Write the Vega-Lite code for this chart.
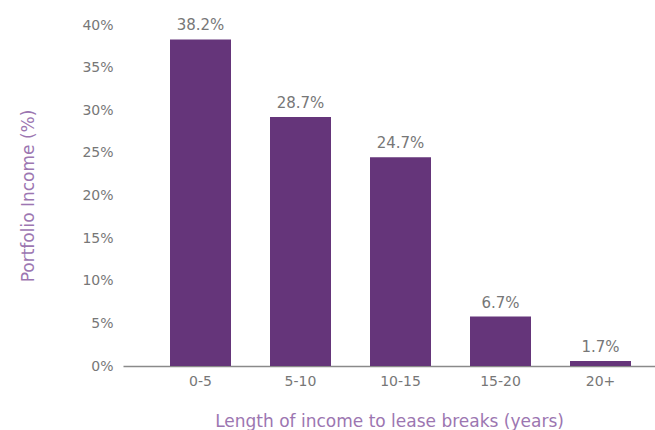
{
  "$schema": "https://vega.github.io/schema/vega-lite/v6.json",
  "width": 532,
  "height": 341,
  "autosize": "none",
  "padding": {"left": 123, "top": 25, "right": 0, "bottom": 64},
  "background": "white",
  "config": {"view": {"stroke": null}, "font": "DejaVu Sans"},
  "data": {
    "values": [
      {"band": "0-5", "value": 38.3, "label": "38.2%"},
      {"band": "5-10", "value": 29.2, "label": "28.7%"},
      {"band": "10-15", "value": 24.5, "label": "24.7%"},
      {"band": "15-20", "value": 5.8, "label": "6.7%"},
      {"band": "20+", "value": 0.6, "label": "1.7%"}
    ]
  },
  "encoding": {
    "x": {
      "field": "band",
      "type": "nominal",
      "sort": null,
      "scale": {"paddingInner": 0.39, "paddingOuter": 0.355, "align": 0.662},
      "axis": {
        "title": "Length of income to lease breaks (years)",
        "labelAngle": 0,
        "labelFont": "DejaVu Sans",
        "labelFontWeight": "normal",
        "labelFontSize": 14,
        "labelColor": "#777777",
        "labelPadding": 8,
        "ticks": false,
        "domainColor": "#8a8a8a",
        "domainWidth": 1.5,
        "titleFont": "DejaVu Sans",
        "titleFontSize": 17,
        "titleFontWeight": "normal",
        "titleColor": "#9c76b1",
        "titlePadding": 25
      }
    },
    "y": {
      "field": "value",
      "type": "quantitative",
      "scale": {"domain": [0, 40]},
      "axis": {
        "title": "Portfolio Income (%)",
        "values": [0, 5, 10, 15, 20, 25, 30, 35, 40],
        "labelExpr": "datum.value + '%'",
        "labelFont": "DejaVu Sans",
        "labelFontWeight": "normal",
        "labelFontSize": 14,
        "labelColor": "#777777",
        "labelPadding": 10,
        "ticks": false,
        "domain": false,
        "grid": false,
        "titleFont": "DejaVu Sans",
        "titleFontSize": 17,
        "titleFontWeight": "normal",
        "titleColor": "#9c76b1",
        "titlePadding": 44
      }
    }
  },
  "layer": [
    {"mark": {"type": "bar", "color": "#65357a"}},
    {
      "mark": {"type": "text", "baseline": "bottom", "dy": -6, "fontSize": 15, "fontWeight": "normal", "color": "#777777", "font": "DejaVu Sans"},
      "encoding": {"text": {"field": "label"}}
    }
  ]
}
